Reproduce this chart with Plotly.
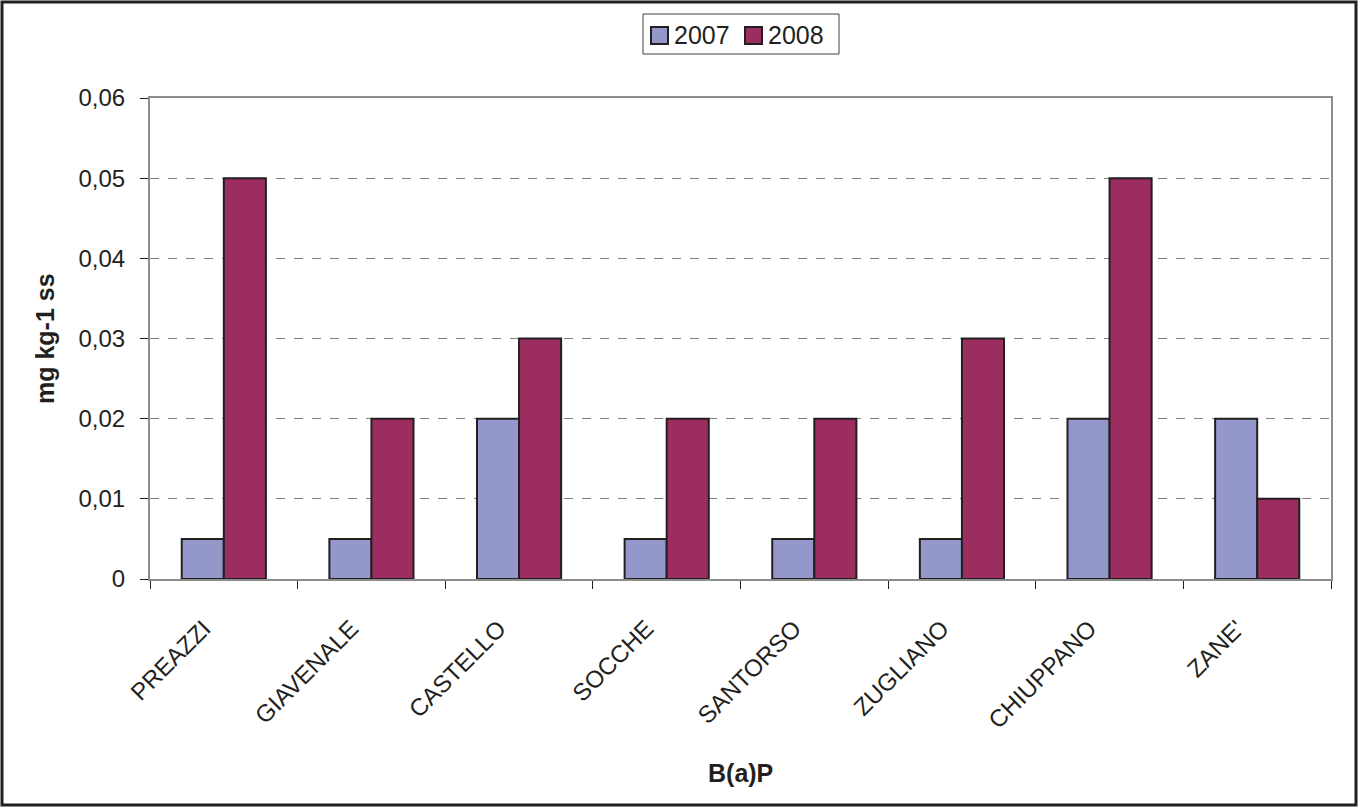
import plotly.graph_objects as go

# B(a)P concentrations by site, mg kg-1 dry matter
sites = ["PREAZZI", "GIAVENALE", "CASTELLO", "SOCCHE", "SANTORSO",
         "ZUGLIANO", "CHIUPPANO", "ZANE'"]
values_2007 = [0.005, 0.005, 0.02, 0.005, 0.005, 0.005, 0.02, 0.02]
values_2008 = [0.05, 0.02, 0.03, 0.02, 0.02, 0.03, 0.05, 0.01]
years = ["2007", "2008"]
colors = ["#9497c9", "#9c2d60"]
y_ticks = [0, 0.01, 0.02, 0.03, 0.04, 0.05, 0.06]
y_tick_text = ["0", "0,01", "0,02", "0,03", "0,04", "0,05", "0,06"]

W, H = 1359, 807
ML, MR, MT, MB = 150, 28, 98, 228
PW, PH = W - ML - MR, H - MT - MB

INK = "#231f20"
FONT = "Liberation Sans, Arial, sans-serif"


def px_x(px):
    return (px - ML) / PW


def px_y(py):
    return (H - MB - py) / PH


fig = go.Figure()
for name, vals, col in zip(years, [values_2007, values_2008], colors):
    fig.add_trace(go.Bar(
        x=sites, y=vals, name=name, showlegend=False,
        marker=dict(color=col, line=dict(color=INK, width=2)),
    ))

# Boxed legend at the top: outline, swatches and labels
shapes = [
    dict(type="rect", xref="paper", yref="paper",
         x0=px_x(2), x1=px_x(1356), y0=px_y(805), y1=px_y(2),
         line=dict(color=INK, width=3), fillcolor="rgba(0,0,0,0)",
         layer="below"),
    dict(type="rect", xref="paper", yref="paper",
         x0=px_x(643), x1=px_x(839), y0=px_y(54), y1=px_y(14),
         line=dict(color="#404040", width=1), fillcolor="white"),
]
annotations = []
swatch_left = [651, 745]
for name, col, sx in zip(years, colors, swatch_left):
    shapes.append(dict(type="rect", xref="paper", yref="paper",
                       x0=px_x(sx), x1=px_x(sx + 17),
                       y0=px_y(44), y1=px_y(27),
                       line=dict(color=INK, width=2), fillcolor=col))
    annotations.append(dict(text=name, xref="paper", yref="paper",
                            x=px_x(sx + 21), y=px_y(35.5),
                            xanchor="left", yanchor="middle",
                            showarrow=False,
                            font=dict(size=25, family=FONT, color=INK)))

annotations += [
    dict(text="<b>mg kg-1 ss</b>", xref="paper", yref="paper",
         x=px_x(45), y=px_y(339), textangle=-90, showarrow=False,
         font=dict(size=25, family=FONT, color=INK),
         xanchor="center", yanchor="middle"),
    dict(text="<b>B(a)P</b>", xref="paper", yref="paper",
         x=px_x(740), y=px_y(773), showarrow=False,
         font=dict(size=25, family=FONT, color=INK),
         xanchor="center", yanchor="middle"),
]

fig.update_layout(
    width=W, height=H,
    margin=dict(l=ML, r=MR, t=MT, b=MB, autoexpand=False),
    paper_bgcolor="white", plot_bgcolor="white",
    barmode="group", bargap=0.43, bargroupgap=0,
    font=dict(family=FONT, color=INK, size=24),
    showlegend=False,
    xaxis=dict(
        type="category", tickson="boundaries", tickangle=-45,
        ticks="outside", ticklen=8, tickcolor=INK, tickwidth=1,
        ticklabelstandoff=24, ticklabelshift=-20,
        showline=True, linecolor="#8c8c8c", linewidth=2, mirror=True,
        showgrid=False, tickfont=dict(size=24, family=FONT, color=INK),
    ),
    yaxis=dict(
        range=[0, 0.06], tickvals=y_ticks, ticktext=y_tick_text,
        ticks="outside", ticklen=8, tickcolor=INK, tickwidth=1,
        ticklabelstandoff=10,
        showline=True, linecolor="#8c8c8c", linewidth=2, mirror=True,
        showgrid=True, gridcolor="#808080", gridwidth=1, griddash="dash",
        zeroline=False, tickfont=dict(size=24, family=FONT, color=INK),
    ),
    annotations=annotations,
    shapes=shapes,
)

fig.write_html("out.html")
